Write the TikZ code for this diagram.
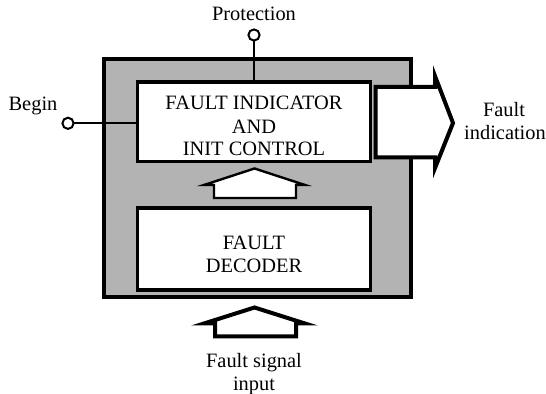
\documentclass[tikz,border=0pt]{standalone}
\usepackage{fontspec}
\setmainfont{Liberation Serif}
\definecolor{panelgray}{RGB}{179,179,179}
\tikzset{
  outerbox/.style={draw, fill=panelgray, line width=2pt, rectangle, inner sep=0pt, outer sep=0pt},
  innerbox/.style={draw, fill=white, line width=1.8pt, rectangle, inner sep=0pt, outer sep=0pt},
  lbl/.style={inner sep=0pt, anchor=base, font=\fontsize{10.2}{12}\selectfont},
  port/.style={circle, draw, fill=white, line width=1pt, minimum size=5.6pt, inner sep=0pt, outer sep=0pt},
  wire/.style={line width=0.9pt},
  blockarrow/.style={draw, fill=white, line join=miter},
}
\begin{document}
\begin{tikzpicture}[x=0.5pt,y=-0.5pt]
\useasboundingbox (0,0) rectangle (546,394);
% outer panel
\node[outerbox, minimum width=153.75pt, minimum height=119pt] (outer) at (257.25,178.5) {};
% inner boxes
\node[innerbox, minimum width=116.5pt, minimum height=39.75pt] (top) at (254,121.75) {};
\node[innerbox, minimum width=116.5pt, minimum height=41pt] (bot) at (254,249) {};
% texts in boxes
\node[lbl] (t1) at (254,110) {FAULT INDICATOR};
\node[lbl] (t2) at (254,133.3) {AND};
\node[lbl] (t3) at (254,156) {INIT CONTROL};
\node[lbl] (b1) at (254,250) {FAULT};
\node[lbl] (b2) at (254,272.7) {DECODER};
% output arrow
\draw[blockarrow, line width=2pt] (375.5,87) -- (435,87) -- (435,76) -- (453,123) -- (435,168) -- (435,157.5) -- (375.5,157.5) -- cycle;
% internal block arrow
\draw[blockarrow, line width=1.2pt] (214,198) -- (214,185) -- (204,185) -- (254.5,168.5) -- (305,185) -- (296,185) -- (296,198) -- cycle;
% input block arrow
\draw[blockarrow, line width=2pt] (215,336.5) -- (215,323.5) -- (204,323.5) -- (254.5,307.5) -- (305,323.5) -- (296,323.5) -- (296,336.5) -- cycle;
% ports
\node[port] (pbegin) at (68,123.3) {};
\node[port] (pprot) at (254,35) {};
\draw[wire] (pbegin.east) -- (pbegin -| top.west);
\draw[wire] (pprot.south) -- (pprot |- top.north);
% labels
\node[lbl] (lprot) at (254,21) {Protection};
\node[lbl] (lbegin) at (33,110.5) {Begin};
\node[lbl] (lfault) at (504,117) {Fault};
\node[lbl] (lind) at (505,140) {indication};
\node[lbl] (lsig) at (254,368) {Fault signal};
\node[lbl] (linp) at (254,391) {input};
\end{tikzpicture}
\end{document}
